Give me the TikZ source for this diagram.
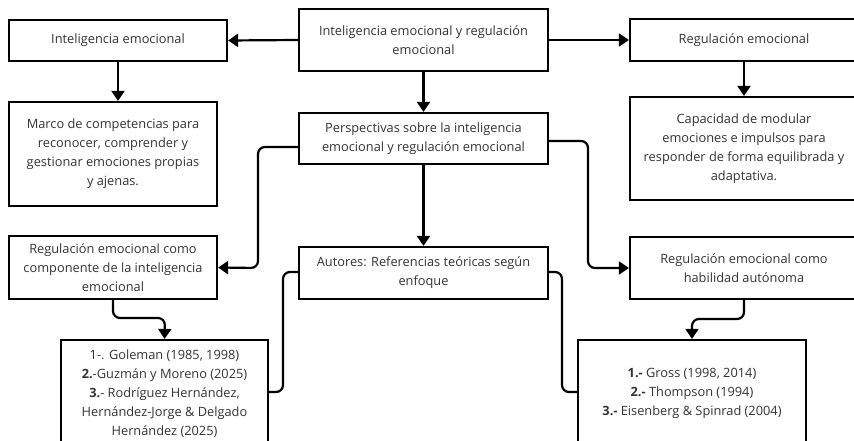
\documentclass[tikz,border=0pt]{standalone}
\usepackage{fontspec}
\setmainfont{Open Sans}
\usetikzlibrary{arrows.meta}
\begin{document}
\begin{tikzpicture}[x=1pt, y=-1pt, >={Triangle[width=13pt,length=10pt]},
  caja/.style={draw, line width=2.2pt, align=center, inner sep=0pt,
    font=\fontsize{12.8}{19}\selectfont, text=black!80},
  linea/.style={line width=2.2pt, rounded corners=7pt}]
\useasboundingbox (0,0) rectangle (854,441);
% fila superior
\node[caja, minimum width=249pt, minimum height=62pt] (ier) at (423.5,40) {Inteligencia emocional y regulación\\emocional};
\node[caja, minimum width=218pt, minimum height=41pt] (ie) at (118,40.5) {Inteligencia emocional};
\node[caja, minimum width=228pt, minimum height=42pt] (re) at (744,40) {Regulación emocional};
% definiciones
\node[caja, minimum width=208pt, minimum height=104pt] (marco) at (113,154) {Marco de competencias para\\reconocer, comprender y\\gestionar emociones propias\\y ajenas.};
\node[caja, minimum width=228pt, minimum height=103pt] (cap) at (744,148.5) {Capacidad de modular\\emociones e impulsos para\\responder de forma equilibrada y\\adaptativa.};
\node[caja, minimum width=249pt, minimum height=51pt] (persp) at (423.5,138.5) {Perspectivas sobre la inteligencia\\emocional y regulación emocional};
% perspectivas
\node[caja, minimum width=208pt, minimum height=63pt] (comp) at (113,267.5) {Regulación emocional como\\componente de la inteligencia\\emocional};
\node[caja, minimum width=249pt, minimum height=52pt] (aut) at (423.5,273) {Autores: Referencias teóricas según\\enfoque};
\node[caja, minimum width=228pt, minimum height=62pt] (auton) at (744,268) {Regulación emocional como\\habilidad autónoma};
% autores
\node[caja, minimum width=207pt, minimum height=108pt] (gol) at (164.5,394) {1-. Goleman (1985, 1998)\\\textbf{2.}-Guzmán y Moreno (2025)\\\textbf{3.}- Rodríguez Hernández,\\Hernández-Jorge \& Delgado\\Hernández (2025)};
\node[caja, minimum width=228pt, minimum height=106pt] (gross) at (692,393) {\textbf{1.-} Gross (1998, 2014)\\\textbf{2.-} Thompson (1994)\\\textbf{3.-} Eisenberg \& Spinrad (2004)};
% conectores
\draw[linea, ->] (ier.west) -- (ie.east);
\draw[linea, ->] (ier.east) -- (re.west);
\draw[linea, ->] (ier.south) -- (persp.north);
\draw[linea, ->] (ie.south) -- (ie.south |- marco.north);
\draw[linea, ->] (re.south) -- (re.south |- cap.north);
\draw[linea, ->] ([yshift=-8.5pt]persp.west) -| (258,268) -- (comp.east);
\draw[linea, ->] ([yshift=-2.5pt]persp.east) -| (588,268) -- (auton.west);
\draw[linea, ->] (persp.south) -- (aut.north);
\draw[linea, ->] (comp.south) |- (165,318) -- (gol.north);
\draw[linea] ([yshift=1pt]aut.west) -| (283,392) -- (gol.east |- 0,392);
\draw[linea] ([yshift=1pt]aut.east) -| (562,392) -- (gross.west |- 0,392);
\draw[linea, ->] (auton.south) |- (692,319) -- (gross.north);
\end{tikzpicture}
\end{document}
